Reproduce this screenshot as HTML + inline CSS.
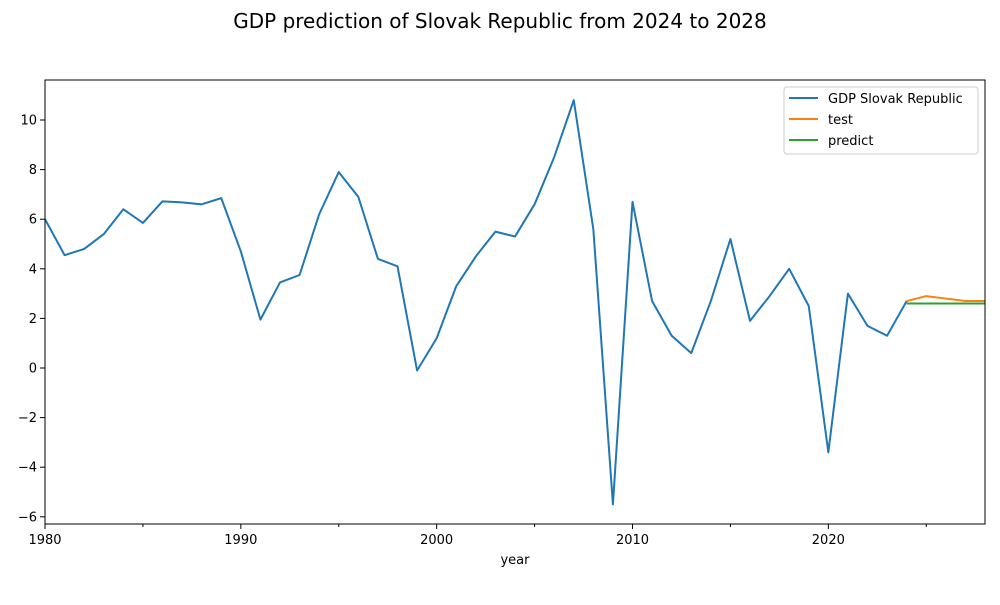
<!DOCTYPE html>
<html><head><meta charset="utf-8"><style>
body{margin:0;background:#fff;font-family:"Liberation Sans","DejaVu Sans",sans-serif}
</style></head><body>
<svg id="chart" width="1000" height="600" font-family="DejaVu Sans, Liberation Sans, sans-serif">
<text x="500" y="28" text-anchor="middle" font-size="20">GDP prediction of Slovak Republic from 2024 to 2028</text>
<g id="axes"></g>
<g id="series"></g>
<rect x="45" y="80" width="940" height="444" fill="none" stroke="#000" stroke-width="1"/>
<text x="515" y="564" text-anchor="middle" font-size="13">year</text>
<g>
<rect x="784" y="87" width="194" height="67" rx="3" fill="#fff" fill-opacity="0.8" stroke="#ccc"/>
<line x1="789" y1="98" x2="818" y2="98" stroke="#1f77b4" stroke-width="2"/>
<text x="828" y="103" font-size="13">GDP Slovak Republic</text>
<line x1="789" y1="119" x2="818" y2="119" stroke="#ff7f0e" stroke-width="2"/>
<text x="828" y="124" font-size="13">test</text>
<line x1="789" y1="140" x2="818" y2="140" stroke="#2ca02c" stroke-width="2"/>
<text x="828" y="145" font-size="13">predict</text>
</g>
</svg>
<script>
const years=[1980,1981,1982,1983,1984,1985,1986,1987,1988,1989,1990,1991,1992,1993,1994,1995,1996,1997,1998,1999,2000,2001,2002,2003,2004,2005,2006,2007,2008,2009,2010,2011,2012,2013,2014,2015,2016,2017,2018,2019,2020,2021,2022,2023,2024];
const gdp=[6.0,4.55,4.8,5.4,6.4,5.85,6.72,6.68,6.6,6.85,4.7,1.95,3.45,3.75,6.2,7.9,6.9,4.4,4.1,-0.1,1.2,3.3,4.5,5.5,5.3,6.6,8.5,10.8,5.6,-5.5,6.7,2.7,1.3,0.6,2.7,5.2,1.9,2.9,4.0,2.5,-3.4,3.0,1.7,1.3,2.7];
const testYears=[2024,2025,2026,2027,2028];
const testVals=[2.7,2.9,2.8,2.7,2.7];
const predYears=[2024,2025,2026,2027,2028];
const predVals=[2.6,2.6,2.6,2.6,2.6];
const xTicks=[1980,1990,2000,2010,2020];
const xMinor=[1985,1995,2005,2015,2025];
const yTicks=[-6,-4,-2,0,2,4,6,8,10];
const NS='http://www.w3.org/2000/svg';
const X=v=>45+(v-1980)*(940/48);
const Y=v=>368-v*24.8;
const axes=document.getElementById('axes'),ser=document.getElementById('series');
function mk(tag,attrs,parent){const e=document.createElementNS(NS,tag);for(const k in attrs)e.setAttribute(k,attrs[k]);parent.appendChild(e);return e;}
xTicks.forEach(t=>{
 const g=mk('g',{},axes);
 
 
 mk('line',{x1:X(t),x2:X(t),y1:524,y2:529,stroke:'#000'},g);
 const tx=mk('text',{x:X(t),y:544,'text-anchor':'middle','font-size':13},g);tx.textContent=t;
});
xMinor.forEach(t=>{
 const l=mk('line',{x1:X(t),x2:X(t),y1:524,y2:527,stroke:'#000'},axes);
 
 
});
yTicks.forEach(t=>{
 const g=mk('g',{},axes);
 
 
 mk('line',{x1:40,x2:45,y1:Y(t),y2:Y(t),stroke:'#000'},g);
 const tx=mk('text',{x:37,y:Y(t)+4.5,'text-anchor':'end','font-size':13},g);tx.textContent=(t<0?'\u2212'+(-t):t);
});
function line(xs,ys,color,name){
 const p=mk('polyline',{points:xs.map((x,i)=>X(x)+','+Y(ys[i])).join(' '),fill:'none',stroke:color,'stroke-width':2,'stroke-linejoin':'round'},ser);
 
 
}
line(years,gdp,'#1f77b4','gdp-line');
line(testYears,testVals,'#ff7f0e','test-line');
line(predYears,predVals,'#2ca02c','predict-line');
</script>
</body></html>
